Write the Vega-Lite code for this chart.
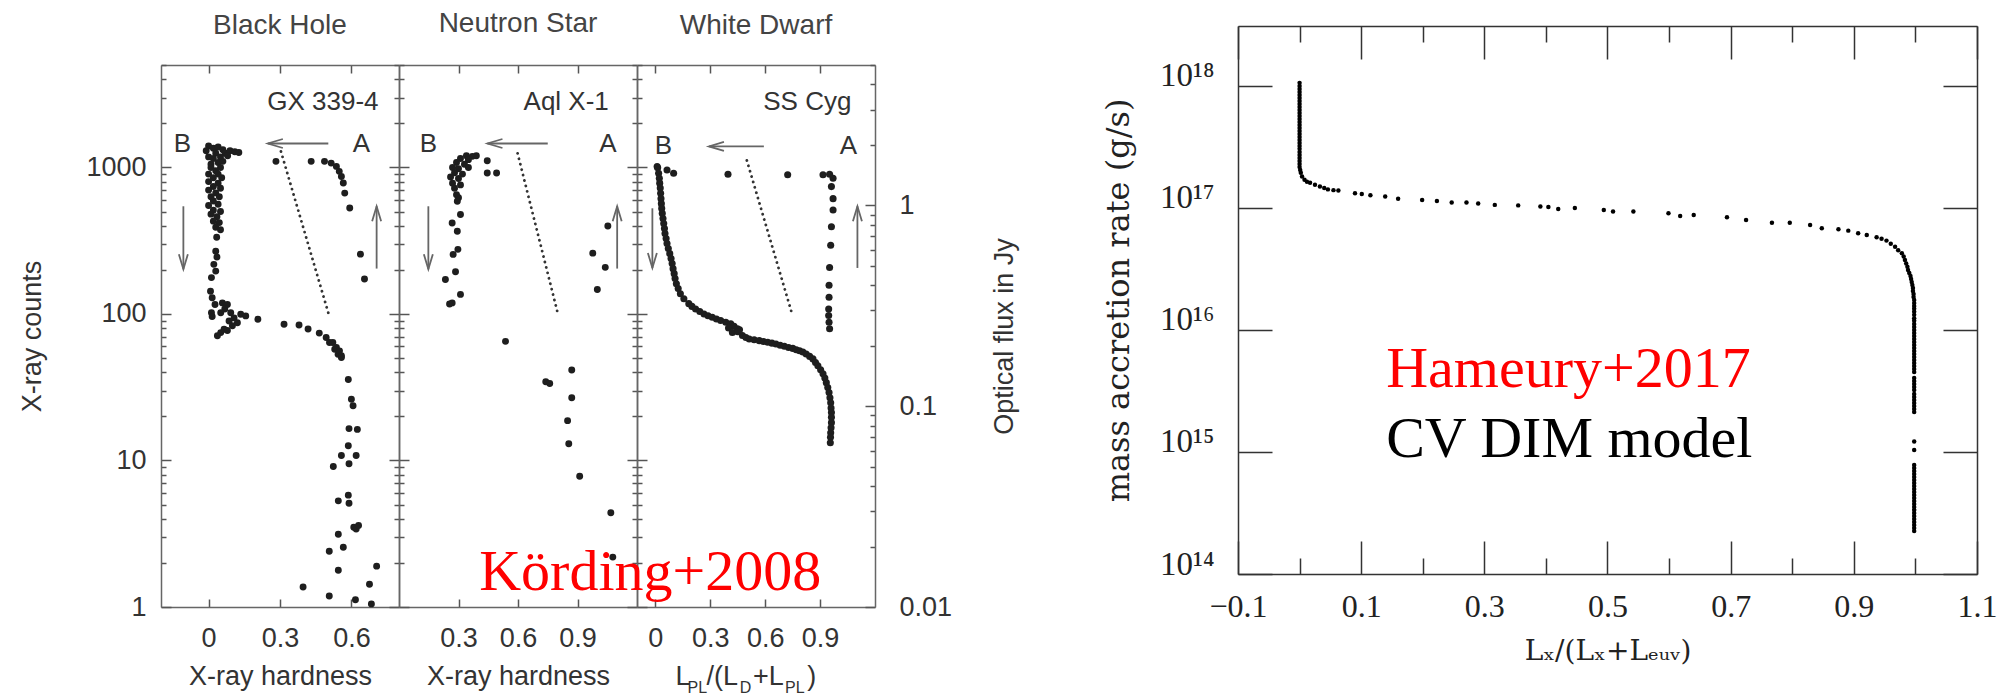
{
"$schema": "https://vega.github.io/schema/vega-lite/v6.json",
"background": "white",
"padding": {"left": 18, "top": 10, "right": 0, "bottom": 0},
"bounds": "flush",
"spacing": 0,
"config": {
  "view": {"stroke": null},
  "axis": {"grid": false, "domainColor": "#666", "domainWidth": 1.5, "tickColor": "#555", "tickWidth": 1.5,
    "labelFont": "Liberation Sans", "labelFontSize": 27, "labelColor": "#333",
    "titleFont": "Liberation Sans", "titleFontSize": 27, "titleFontWeight": "normal", "titleColor": "#333",
    "labelFlush": false, "labelOverlap": false}
},
"datasets": {
  "bh": [
    {"h":0.0,"c":1400},{"h":0.02,"c":1350},{"h":0.04,"c":1380},{"h":0.06,"c":1320},{"h":-0.01,"c":1300},{"h":0.03,"c":1250},{"h":0.07,"c":1250},{"h":0.09,"c":1300},{"h":0.11,"c":1280},{"h":0.127,"c":1264},{"h":0.0,"c":1180},{"h":0.02,"c":1150},{"h":0.05,"c":1180},{"h":0.08,"c":1200},{"h":0.01,"c":1050},{"h":0.04,"c":1080},{"h":0.06,"c":1100},
    {"h":0.01,"c":1000},{"h":0.05,"c":1000},{"h":0.03,"c":950},{"h":0.0,"c":900},{"h":0.04,"c":900},{"h":0.02,"c":850},{"h":0.055,"c":850},{"h":0.0,"c":800},{"h":0.04,"c":780},{"h":0.02,"c":740},{"h":0.05,"c":720},{"h":0.0,"c":700},{"h":0.03,"c":670},{"h":0.01,"c":630},{"h":0.045,"c":630},{"h":0.02,"c":590},{"h":0.04,"c":560},{"h":0.0,"c":550},{"h":0.02,"c":510},{"h":0.05,"c":500},{"h":0.01,"c":480},{"h":0.035,"c":460},{"h":0.02,"c":430},{"h":0.045,"c":420},{"h":0.03,"c":390},{"h":0.05,"c":375},{"h":0.034,"c":334},
    {"h":0.03,"c":268},{"h":0.035,"c":245},{"h":0.022,"c":218},{"h":0.03,"c":196},{"h":0.012,"c":177},
    {"h":0.008,"c":143},{"h":0.015,"c":129},{"h":0.027,"c":116},{"h":0.012,"c":102},{"h":0.015,"c":96},
    {"h":0.058,"c":119},{"h":0.079,"c":116},{"h":0.068,"c":108},{"h":0.093,"c":102},{"h":0.051,"c":102},{"h":0.135,"c":99.5},{"h":0.156,"c":97},{"h":0.107,"c":94},{"h":0.086,"c":89.6},{"h":0.121,"c":87},{"h":0.1,"c":83},{"h":0.065,"c":78.7},{"h":0.079,"c":77},{"h":0.051,"c":74.6},{"h":0.037,"c":71},
    {"h":0.207,"c":92},{"h":0.317,"c":85},{"h":0.38,"c":84},{"h":0.418,"c":79},{"h":0.465,"c":74},{"h":0.494,"c":69},{"h":0.508,"c":63.8},{"h":0.522,"c":63.8},{"h":0.53,"c":57.5},{"h":0.537,"c":59},{"h":0.544,"c":53},{"h":0.55,"c":56},{"h":0.558,"c":51.8},{"h":0.558,"c":50.5},
    {"h":0.587,"c":35.7},{"h":0.6,"c":26.2},{"h":0.607,"c":23.6},{"h":0.59,"c":16.5},{"h":0.625,"c":16.3},{"h":0.587,"c":12.6},{"h":0.558,"c":10.8},{"h":0.62,"c":10.8},{"h":0.59,"c":9.5},{"h":0.524,"c":9.1},{"h":0.587,"c":5.8},{"h":0.545,"c":5.3},{"h":0.59,"c":5.1},{"h":0.61,"c":3.5},{"h":0.62,"c":3.4},{"h":0.63,"c":3.6},{"h":0.545,"c":3.14},{"h":0.566,"c":2.56},{"h":0.507,"c":2.4},{"h":0.706,"c":1.9},{"h":0.545,"c":1.78},{"h":0.397,"c":1.37},{"h":0.676,"c":1.43},{"h":0.507,"c":1.19},{"h":0.617,"c":1.12},{"h":0.684,"c":1.05},
    {"h":0.283,"c":1100},{"h":0.431,"c":1100},{"h":0.487,"c":1100},{"h":0.515,"c":1070},{"h":0.537,"c":1016},{"h":0.549,"c":940},{"h":0.558,"c":868},{"h":0.566,"c":782},{"h":0.572,"c":668},{"h":0.593,"c":529},{"h":0.638,"c":256},{"h":0.655,"c":173}
  ],
  "ns": [
    {"h":0.34,"c":1200},{"h":0.37,"c":1190},{"h":0.39,"c":1200},{"h":0.31,"c":1150},{"h":0.35,"c":1130},{"h":0.29,"c":1080},{"h":0.33,"c":1050},{"h":0.27,"c":1000},{"h":0.3,"c":980},{"h":0.35,"c":1000},{"h":0.28,"c":920},{"h":0.32,"c":900},{"h":0.26,"c":860},{"h":0.3,"c":840},{"h":0.27,"c":780},{"h":0.31,"c":760},{"h":0.28,"c":720},{"h":0.29,"c":650},{"h":0.3,"c":620},
    {"h":0.445,"c":1111},{"h":0.445,"c":915},{"h":0.492,"c":915},
    {"h":0.294,"c":587},{"h":0.31,"c":477},{"h":0.268,"c":418},{"h":0.294,"c":367},{"h":0.297,"c":276},{"h":0.273,"c":255},{"h":0.285,"c":194},{"h":0.234,"c":172},{"h":0.31,"c":136},{"h":0.268,"c":119},{"h":0.255,"c":117},
    {"h":0.537,"c":65},
    {"h":1.053,"c":398},{"h":0.977,"c":260},{"h":1.04,"c":208},{"h":1.0,"c":147},
    {"h":0.871,"c":41.5},{"h":0.74,"c":34.5},{"h":0.76,"c":33.5},{"h":0.871,"c":26.8},{"h":0.85,"c":18.7},{"h":0.856,"c":13},{"h":0.911,"c":7.8},{"h":1.068,"c":4.4},{"h":1.078,"c":2.19}
  ],
  "wd": [
    {"h":0.01,"f":1.56},{"h":0.013,"f":1.54},{"h":0.018,"f":1.445},{"h":0.022,"f":1.365},{"h":0.024,"f":1.29},{"h":0.027,"f":1.22},{"h":0.029,"f":1.15},{"h":0.031,"f":1.08},{"h":0.033,"f":1.02},{"h":0.035,"f":0.966},{"h":0.038,"f":0.912},{"h":0.042,"f":0.861},{"h":0.046,"f":0.813},{"h":0.05,"f":0.767},{"h":0.053,"f":0.724},{"h":0.059,"f":0.684},{"h":0.064,"f":0.646},{"h":0.071,"f":0.61},{"h":0.079,"f":0.575},{"h":0.086,"f":0.543},{"h":0.092,"f":0.513},{"h":0.097,"f":0.484},{"h":0.103,"f":0.457},{"h":0.108,"f":0.432},{"h":0.115,"f":0.407},{"h":0.125,"f":0.385},{"h":0.137,"f":0.363},{"h":0.156,"f":0.343},{"h":0.183,"f":0.324},{"h":0.2,"f":0.314},{"h":0.22,"f":0.305},{"h":0.243,"f":0.296},{"h":0.266,"f":0.288},{"h":0.288,"f":0.282},{"h":0.311,"f":0.277},{"h":0.334,"f":0.272},{"h":0.357,"f":0.267},{"h":0.385,"f":0.262},{"h":0.412,"f":0.257},{"h":0.43,"f":0.25},{"h":0.449,"f":0.243},{"h":0.4,"f":0.245},{"h":0.46,"f":0.24},{"h":0.421,"f":0.233},{"h":0.45,"f":0.235},{"h":0.476,"f":0.225},{"h":0.495,"f":0.22},{"h":0.513,"f":0.216},{"h":0.54,"f":0.214},{"h":0.568,"f":0.212},{"h":0.591,"f":0.21},{"h":0.614,"f":0.208},{"h":0.637,"f":0.206},{"h":0.659,"f":0.204},{"h":0.682,"f":0.201},{"h":0.705,"f":0.199},{"h":0.728,"f":0.196},{"h":0.751,"f":0.194},{"h":0.77,"f":0.191},{"h":0.788,"f":0.189},{"h":0.806,"f":0.186},{"h":0.824,"f":0.182},{"h":0.843,"f":0.177},{"h":0.861,"f":0.172},{"h":0.875,"f":0.165},{"h":0.888,"f":0.159},{"h":0.903,"f":0.152},{"h":0.916,"f":0.145},{"h":0.926,"f":0.138},{"h":0.934,"f":0.131},{"h":0.942,"f":0.124},{"h":0.949,"f":0.117},{"h":0.954,"f":0.11},{"h":0.958,"f":0.104},{"h":0.96,"f":0.098},{"h":0.962,"f":0.093},{"h":0.962,"f":0.088},{"h":0.962,"f":0.0828},{"h":0.96,"f":0.078},{"h":0.958,"f":0.0738},{"h":0.957,"f":0.07},{"h":0.956,"f":0.0658},
    {"h":0.064,"f":1.5},{"h":0.1,"f":1.445},{"h":0.397,"f":1.43},{"h":0.723,"f":1.42},
    {"h":0.916,"f":1.42},{"h":0.952,"f":1.43},{"h":0.971,"f":1.365},{"h":0.962,"f":1.24},{"h":0.971,"f":1.08},{"h":0.971,"f":0.948},{"h":0.962,"f":0.782},{"h":0.958,"f":0.633},{"h":0.952,"f":0.49},{"h":0.949,"f":0.4},{"h":0.949,"f":0.349},{"h":0.947,"f":0.305},{"h":0.947,"f":0.283},{"h":0.949,"f":0.262},{"h":0.952,"f":0.243}
  ],
  "cv": [
    {"r":0,"m":1.06e18},{"r":0,"m":1.0e18},{"r":0,"m":9.44e17},{"r":0,"m":8.93e17},{"r":0,"m":8.44e17},{"r":0,"m":7.97e17},{"r":0,"m":7.54e17},{"r":0,"m":7.12e17},{"r":0,"m":6.73e17},{"r":0,"m":6.36e17},{"r":0,"m":6.01e17},{"r":0,"m":5.68e17},{"r":0,"m":5.37e17},{"r":0,"m":5.07e17},{"r":0,"m":4.79e17},{"r":0,"m":4.53e17},{"r":0,"m":4.28e17},{"r":0,"m":4.04e17},{"r":0,"m":3.82e17},{"r":0,"m":3.61e17},{"r":0,"m":3.41e17},{"r":0,"m":3.22e17},{"r":0,"m":3.05e17},{"r":0,"m":2.88e17},{"r":0,"m":2.72e17},{"r":0,"m":2.57e17},{"r":0,"m":2.43e17},{"r":0,"m":2.29e17},{"r":0,"m":2.17e17},{"r":0.001,"m":2.05e17},{"r":0.002,"m":1.94e17},
    {"r":0.004,"m":1.81e17},{"r":0.008,"m":1.7e17},{"r":0.012,"m":1.64e17},{"r":0.017,"m":1.61e17},{"r":0.025,"m":1.55e17},{"r":0.033,"m":1.5e17},{"r":0.04,"m":1.46e17},{"r":0.046,"m":1.42e17},{"r":0.055,"m":1.4e17},{"r":0.063,"m":1.39e17},{"r":0.09,"m":1.32e17},{"r":0.101,"m":1.3e17},{"r":0.115,"m":1.27e17},{"r":0.139,"m":1.24e17},{"r":0.16,"m":1.19e17},{"r":0.199,"m":1.16e17},{"r":0.223,"m":1.14e17},{"r":0.247,"m":1.11e17},{"r":0.271,"m":1.11e17},{"r":0.29,"m":1.09e17},{"r":0.317,"m":1.06e17},{"r":0.355,"m":1.05e17},{"r":0.391,"m":1.03e17},{"r":0.404,"m":1.02e17},{"r":0.42,"m":9.8e16},{"r":0.447,"m":1.0e17},{"r":0.494,"m":9.64e16},{"r":0.509,"m":9.34e16},{"r":0.542,"m":9.34e16},{"r":0.599,"m":9.06e16},{"r":0.618,"m":8.6e16},{"r":0.64,"m":8.75e16},{"r":0.694,"m":8.4e16},{"r":0.725,"m":7.98e16},{"r":0.767,"m":7.58e16},{"r":0.796,"m":7.58e16},{"r":0.829,"m":7.26e16},{"r":0.848,"m":6.82e16},{"r":0.875,"m":6.7e16},{"r":0.891,"m":6.52e16},{"r":0.907,"m":6.2e16},{"r":0.921,"m":6.0e16},{"r":0.937,"m":5.75e16},{"r":0.945,"m":5.6e16},{"r":0.953,"m":5.4e16},{"r":0.96,"m":5.1e16},{"r":0.967,"m":4.8e16},{"r":0.972,"m":4.5e16},{"r":0.978,"m":4.26e16},{"r":0.981,"m":4.0e16},{"r":0.983,"m":3.75e16},{"r":0.985,"m":3.5e16},{"r":0.987,"m":3.3e16},
    {"r":0.988,"m":3.1e16},{"r":0.99,"m":2.93e16},{"r":0.992,"m":2.77e16},{"r":0.993,"m":2.62e16},{"r":0.994,"m":2.47e16},{"r":0.995,"m":2.34e16},{"r":0.996,"m":2.21e16},{"r":0.996,"m":2.09e16},{"r":0.997,"m":1.97e16},{"r":0.997,"m":1.86e16},{"r":0.998,"m":1.76e16},{"r":0.998,"m":1.66e16},{"r":0.998,"m":1.57e16},{"r":0.998,"m":1.49e16},{"r":0.998,"m":1.41e16},{"r":0.998,"m":1.33e16},{"r":0.998,"m":1.25e16},{"r":0.998,"m":1.19e16},{"r":0.998,"m":1.12e16},{"r":0.998,"m":1.06e16},{"r":0.998,"m":1.0e16},{"r":0.998,"m":9.44e15},{"r":0.998,"m":8.93e15},{"r":0.998,"m":8.44e15},{"r":0.998,"m":7.97e15},{"r":0.998,"m":7.54e15},{"r":0.998,"m":7.12e15},{"r":0.998,"m":6.73e15},{"r":0.998,"m":6.36e15},{"r":0.998,"m":6.01e15},{"r":0.998,"m":5.68e15},{"r":0.998,"m":5.37e15},{"r":0.998,"m":5.07e15},{"r":0.998,"m":4.79e15},{"r":0.998,"m":4.53e15},{"r":0.998,"m":4.04e15},{"r":0.998,"m":3.82e15},{"r":0.998,"m":3.61e15},{"r":0.998,"m":3.41e15},{"r":0.998,"m":3.22e15},{"r":0.998,"m":2.99e15},{"r":0.998,"m":2.82e15},{"r":0.998,"m":2.67e15},{"r":0.998,"m":2.52e15},{"r":0.998,"m":2.38e15},{"r":0.998,"m":2.25e15},{"r":0.998,"m":2.13e15},{"r":0.998,"m":1.22e15},{"r":0.998,"m":1.04e15},
    {"r":0.998,"m":7.82e14},{"r":0.998,"m":7.39e14},{"r":0.998,"m":6.98e14},{"r":0.998,"m":6.6e14},{"r":0.998,"m":6.24e14},{"r":0.998,"m":5.89e14},{"r":0.998,"m":5.57e14},{"r":0.998,"m":5.26e14},{"r":0.998,"m":4.97e14},{"r":0.998,"m":4.7e14},{"r":0.998,"m":4.44e14},{"r":0.998,"m":4.2e14},{"r":0.998,"m":3.96e14},{"r":0.998,"m":3.75e14},{"r":0.998,"m":3.54e14},{"r":0.998,"m":3.35e14},{"r":0.998,"m":3.16e14},{"r":0.998,"m":2.99e14},{"r":0.998,"m":2.82e14},{"r":0.998,"m":2.67e14},{"r":0.998,"m":2.52e14},{"r":0.998,"m":2.38e14},{"r":0.998,"m":2.25e14}
  ],
  "labels": [
    {"panel":"BH","kind":"name","x":0.714,"y":2811,"t":"GX 339-4"},
    {"panel":"BH","kind":"letter","x":-0.11,"y":1456,"t":"B"},
    {"panel":"BH","kind":"letter","x":0.642,"y":1456,"t":"A"},
    {"panel":"NS","kind":"name","x":1.058,"y":2811,"t":"Aql X-1"},
    {"panel":"NS","kind":"letter","x":0.148,"y":1456,"t":"B"},
    {"panel":"NS","kind":"letter","x":1.053,"y":1456,"t":"A"},
    {"panel":"WD","kind":"name","x":1.071,"y":2811,"t":"SS Cyg"},
    {"panel":"WD","kind":"letter","x":0.044,"y":1390,"t":"B"},
    {"panel":"WD","kind":"letter","x":1.055,"y":1390,"t":"A"},
    {"panel":"WD","kind":"credit","x":-0.962,"y":1.305,"t":"Körding+2008"},
    {"panel":"WD","kind":"xlab","x":0.11,"y":0.2946,"t":"L"},
    {"panel":"WD","kind":"xsub","x":0.176,"y":0.26,"t":"PL"},
    {"panel":"WD","kind":"xlab","x":0.28,"y":0.2946,"t":"/(L"},
    {"panel":"WD","kind":"xsub","x":0.4615,"y":0.26,"t":"D"},
    {"panel":"WD","kind":"xlab","x":0.533,"y":0.2946,"t":"+L"},
    {"panel":"WD","kind":"xsub","x":0.709,"y":0.26,"t":"PL"},
    {"panel":"WD","kind":"xlab","x":0.83,"y":0.2946,"t":")"}
  ],
  "arrows": [
    {"panel":"BH","x":0.503,"y":1456,"x2":0.249,"y2":1456,"dir":"left"},
    {"panel":"BH","x":-0.106,"y":543,"x2":-0.106,"y2":202,"dir":"down"},
    {"panel":"BH","x":0.706,"y":204,"x2":0.706,"y2":543,"dir":"up"},
    {"panel":"NS","x":0.75,"y":1456,"x2":0.446,"y2":1456,"dir":"left"},
    {"panel":"NS","x":0.148,"y":543,"x2":0.148,"y2":202,"dir":"down"},
    {"panel":"NS","x":1.1,"y":204,"x2":1.1,"y2":543,"dir":"up"},
    {"panel":"WD","x":0.593,"y":1390,"x2":0.293,"y2":1390,"dir":"left"},
    {"panel":"WD","x":-0.016,"y":526,"x2":-0.016,"y2":206,"dir":"down"},
    {"panel":"WD","x":1.104,"y":206,"x2":1.104,"y2":543,"dir":"up"}
  ],
  "dotted": [
    {"panel":"BH","x":0.304,"y":1285,"x2":0.503,"y2":101.6},
    {"panel":"NS","x":0.598,"y":1248,"x2":0.8,"y2":101.6},
    {"panel":"WD","x":0.5,"y":1116,"x2":0.747,"y2":100}
  ],
  "cvtext": [
    {"x":0.1406,"y":3.41e15,"t":"Hameury+2017","role":"ref"},
    {"x":0.1406,"y":9.1e14,"t":"CV DIM model","role":"model"}
  ]
},
"hconcat": [
  {
    "width": 238, "height": 542,
    "title": {"text": "Black Hole", "offset": 11, "frame": "group", "anchor": "middle", "font": "Liberation Sans", "fontSize": 28, "fontWeight": "normal", "color": "#444"},
    "layer": [
      {"data": {"name": "bh"}, "mark": {"type": "circle", "size": 48, "color": "#1e1e1e", "opacity": 1},
       "encoding": {
         "x": {"field": "h", "type": "quantitative", "scale": {"domain": [-0.2, 0.8], "nice": false, "zero": false},
               "axis": {"orient": "bottom", "values": [0, 0.3, 0.6], "format": "~g", "tickSize": -8, "labelPadding": 26, "title": "X-ray hardness", "titlePadding": 12}},
         "y": {"field": "c", "type": "quantitative", "scale": {"type": "log", "domain": [1, 5000], "nice": false},
               "axis": {"orient": "left", "values": [1,2,3,4,5,6,7,8,9,10,20,30,40,50,60,70,80,90,100,200,300,400,500,600,700,800,900,1000,2000,3000,4000,5000], "format": "~g",
                        "labelExpr": "abs(log(datum.value)/LN10 - round(log(datum.value)/LN10)) < 0.001 ? datum.label : ''",
                        "tickSize": {"condition": {"test": "abs(log(datum.value)/LN10 - round(log(datum.value)/LN10)) < 0.001", "value": -10}, "value": -5},
                        "labelPadding": 25, "title": "X-ray counts", "titlePadding": 39}}
       }},
      {"data": {"name": "labels"}, "transform": [{"filter": "datum.panel == 'BH' && datum.kind == 'letter'"}],
       "mark": {"type": "text", "font": "Liberation Sans", "fontSize": 26, "color": "#333", "align": "center", "baseline": "middle"},
       "encoding": {
         "x": {"field": "x", "type": "quantitative", "scale": {"domain": [-0.2, 0.8], "nice": false, "zero": false},
               "axis": {"orient": "top", "values": [0, 0.3, 0.6], "labels": false, "tickSize": -8, "title": null}},
         "y": {"field": "y", "type": "quantitative", "scale": {"type": "log", "domain": [1, 5000], "nice": false},
               "axis": {"orient": "right", "values": [1,2,3,4,5,6,7,8,9,10,20,30,40,50,60,70,80,90,100,200,300,400,500,600,700,800,900,1000,2000,3000,4000,5000], "labels": false,
                        "tickSize": {"condition": {"test": "abs(log(datum.value)/LN10 - round(log(datum.value)/LN10)) < 0.001", "value": -10}, "value": -5}, "title": null}},
         "text": {"field": "t"}
       }},
      {"data": {"name": "labels"}, "transform": [{"filter": "datum.panel == 'BH' && datum.kind == 'name'"}],
       "mark": {"type": "text", "font": "Liberation Sans", "fontSize": 26, "color": "#333", "align": "right", "baseline": "middle"},
       "encoding": {
         "x": {"field": "x", "type": "quantitative", "scale": {"domain": [-0.2, 0.8], "nice": false, "zero": false}, "axis": null},
         "y": {"field": "y", "type": "quantitative", "scale": {"type": "log", "domain": [1, 5000], "nice": false}, "axis": null},
         "text": {"field": "t"}
       }},
      {"data": {"name": "arrows"}, "transform": [{"filter": "datum.panel == 'BH'"}],
       "mark": {"type": "rule", "color": "#666", "strokeWidth": 1.8},
       "encoding": {
         "x": {"field": "x", "type": "quantitative", "scale": {"domain": [-0.2, 0.8], "nice": false, "zero": false}, "axis": null},
         "y": {"field": "y", "type": "quantitative", "scale": {"type": "log", "domain": [1, 5000], "nice": false}, "axis": null},
         "x2": {"field": "x2"}, "y2": {"field": "y2"}
       }},
      {"data": {"name": "arrows"}, "transform": [{"filter": "datum.panel == 'BH'"}],
       "mark": {"type": "point", "filled": false, "color": "#666", "strokeWidth": 1.8, "size": 144, "opacity": 1},
       "encoding": {
         "x": {"field": "x2", "type": "quantitative", "scale": {"domain": [-0.2, 0.8], "nice": false, "zero": false}, "axis": null},
         "y": {"field": "y2", "type": "quantitative", "scale": {"type": "log", "domain": [1, 5000], "nice": false}, "axis": null},
         "shape": {"field": "dir", "type": "nominal", "scale": {"domain": ["left", "up", "down"], "range": ["M2.5,-0.75L0,0L2.5,0.75", "M-0.75,2.5L0,0L0.75,2.5", "M-0.75,-2.5L0,0L0.75,-2.5"]}, "legend": null}
       }},
      {"data": {"name": "dotted"}, "transform": [{"filter": "datum.panel == 'BH'"}],
       "mark": {"type": "rule", "color": "#333", "strokeWidth": 2.8, "strokeDash": [0.1, 5.5], "strokeCap": "round"},
       "encoding": {
         "x": {"field": "x", "type": "quantitative", "scale": {"domain": [-0.2, 0.8], "nice": false, "zero": false}, "axis": null},
         "y": {"field": "y", "type": "quantitative", "scale": {"type": "log", "domain": [1, 5000], "nice": false}, "axis": null},
         "x2": {"field": "x2"}, "y2": {"field": "y2"}
       }}
    ],
    "resolve": {"scale": {"x": "independent", "y": "independent"}, "axis": {"x": "independent", "y": "independent"}}
  },
  {
    "width": 238, "height": 542,
    "title": {"text": "Neutron Star", "offset": 26, "frame": "group", "anchor": "middle", "font": "Liberation Sans", "fontSize": 28, "fontWeight": "normal", "color": "#444"},
    "layer": [
      {"data": {"name": "ns"}, "mark": {"type": "circle", "size": 48, "color": "#1e1e1e", "opacity": 1},
       "encoding": {
         "x": {"field": "h", "type": "quantitative", "scale": {"domain": [0, 1.2], "nice": false, "zero": false},
               "axis": {"orient": "bottom", "values": [0.3, 0.6, 0.9], "format": "~g", "tickSize": -8, "labelPadding": 26, "title": "X-ray hardness", "titlePadding": 12}},
         "y": {"field": "c", "type": "quantitative", "scale": {"type": "log", "domain": [1, 5000], "nice": false},
               "axis": {"orient": "left", "values": [1,2,3,4,5,6,7,8,9,10,20,30,40,50,60,70,80,90,100,200,300,400,500,600,700,800,900,1000,2000,3000,4000,5000], "labels": false,
                        "tickSize": {"condition": {"test": "abs(log(datum.value)/LN10 - round(log(datum.value)/LN10)) < 0.001", "value": -10}, "value": -5}, "title": null}}
       }},
      {"data": {"name": "labels"}, "transform": [{"filter": "datum.panel == 'NS' && datum.kind == 'letter'"}],
       "mark": {"type": "text", "font": "Liberation Sans", "fontSize": 26, "color": "#333", "align": "center", "baseline": "middle"},
       "encoding": {
         "x": {"field": "x", "type": "quantitative", "scale": {"domain": [0, 1.2], "nice": false, "zero": false},
               "axis": {"orient": "top", "values": [0.3, 0.6, 0.9], "labels": false, "tickSize": -8, "title": null}},
         "y": {"field": "y", "type": "quantitative", "scale": {"type": "log", "domain": [1, 5000], "nice": false},
               "axis": {"orient": "right", "values": [1,2,3,4,5,6,7,8,9,10,20,30,40,50,60,70,80,90,100,200,300,400,500,600,700,800,900,1000,2000,3000,4000,5000], "labels": false,
                        "tickSize": {"condition": {"test": "abs(log(datum.value)/LN10 - round(log(datum.value)/LN10)) < 0.001", "value": -10}, "value": -5}, "title": null}},
         "text": {"field": "t"}
       }},
      {"data": {"name": "labels"}, "transform": [{"filter": "datum.panel == 'NS' && datum.kind == 'name'"}],
       "mark": {"type": "text", "font": "Liberation Sans", "fontSize": 26, "color": "#333", "align": "right", "baseline": "middle"},
       "encoding": {
         "x": {"field": "x", "type": "quantitative", "scale": {"domain": [0, 1.2], "nice": false, "zero": false}, "axis": null},
         "y": {"field": "y", "type": "quantitative", "scale": {"type": "log", "domain": [1, 5000], "nice": false}, "axis": null},
         "text": {"field": "t"}
       }},
      {"data": {"name": "arrows"}, "transform": [{"filter": "datum.panel == 'NS'"}],
       "mark": {"type": "rule", "color": "#666", "strokeWidth": 1.8},
       "encoding": {
         "x": {"field": "x", "type": "quantitative", "scale": {"domain": [0, 1.2], "nice": false, "zero": false}, "axis": null},
         "y": {"field": "y", "type": "quantitative", "scale": {"type": "log", "domain": [1, 5000], "nice": false}, "axis": null},
         "x2": {"field": "x2"}, "y2": {"field": "y2"}
       }},
      {"data": {"name": "arrows"}, "transform": [{"filter": "datum.panel == 'NS'"}],
       "mark": {"type": "point", "filled": false, "color": "#666", "strokeWidth": 1.8, "size": 144, "opacity": 1},
       "encoding": {
         "x": {"field": "x2", "type": "quantitative", "scale": {"domain": [0, 1.2], "nice": false, "zero": false}, "axis": null},
         "y": {"field": "y2", "type": "quantitative", "scale": {"type": "log", "domain": [1, 5000], "nice": false}, "axis": null},
         "shape": {"field": "dir", "type": "nominal", "scale": {"domain": ["left", "up", "down"], "range": ["M2.5,-0.75L0,0L2.5,0.75", "M-0.75,2.5L0,0L0.75,2.5", "M-0.75,-2.5L0,0L0.75,-2.5"]}, "legend": null}
       }},
      {"data": {"name": "dotted"}, "transform": [{"filter": "datum.panel == 'NS'"}],
       "mark": {"type": "rule", "color": "#333", "strokeWidth": 2.8, "strokeDash": [0.1, 5.5], "strokeCap": "round"},
       "encoding": {
         "x": {"field": "x", "type": "quantitative", "scale": {"domain": [0, 1.2], "nice": false, "zero": false}, "axis": null},
         "y": {"field": "y", "type": "quantitative", "scale": {"type": "log", "domain": [1, 5000], "nice": false}, "axis": null},
         "x2": {"field": "x2"}, "y2": {"field": "y2"}
       }}
    ],
    "resolve": {"scale": {"x": "independent", "y": "independent"}, "axis": {"x": "independent", "y": "independent"}}
  },
  {
    "width": 238, "height": 542,
    "title": {"text": "White Dwarf", "offset": 11, "frame": "group", "anchor": "middle", "font": "Liberation Sans", "fontSize": 28, "fontWeight": "normal", "color": "#444"},
    "layer": [
      {"data": {"name": "wd"}, "mark": {"type": "circle", "size": 50, "color": "#1e1e1e", "opacity": 1},
       "encoding": {
         "x": {"field": "h", "type": "quantitative", "scale": {"domain": [-0.1, 1.2], "nice": false, "zero": false},
               "axis": {"orient": "bottom", "values": [0, 0.3, 0.6, 0.9], "format": "~g", "tickSize": -8, "labelPadding": 26, "title": null}},
         "y": {"field": "f", "type": "quantitative", "scale": {"type": "log", "domain": [0.01, 5], "nice": false},
               "axis": {"orient": "right", "values": [0.01,0.02,0.03,0.04,0.05,0.06,0.07,0.08,0.09,0.1,0.2,0.3,0.4,0.5,0.6,0.7,0.8,0.9,1,2,3,4,5],
                        "labelExpr": "abs(log(datum.value)/LN10 - round(log(datum.value)/LN10)) < 0.001 ? format(datum.value, '~g') : ''",
                        "tickSize": {"condition": {"test": "abs(log(datum.value)/LN10 - round(log(datum.value)/LN10)) < 0.001", "value": -10}, "value": -5},
                        "labelPadding": 34, "title": "Optical flux in Jy", "titleAngle": 270, "titleBaseline": "top", "titlePadding": 40}}
       }},
      {"data": {"name": "labels"}, "transform": [{"filter": "datum.panel == 'WD' && datum.kind == 'letter'"}],
       "mark": {"type": "text", "font": "Liberation Sans", "fontSize": 26, "color": "#333", "align": "center", "baseline": "middle"},
       "encoding": {
         "x": {"field": "x", "type": "quantitative", "scale": {"domain": [-0.1, 1.2], "nice": false, "zero": false},
               "axis": {"orient": "top", "values": [0, 0.3, 0.6, 0.9], "labels": false, "tickSize": -8, "title": null}},
         "y": {"field": "y", "type": "quantitative", "scale": {"type": "log", "domain": [1, 5000], "nice": false},
               "axis": {"orient": "left", "values": [1,2,3,4,5,6,7,8,9,10,20,30,40,50,60,70,80,90,100,200,300,400,500,600,700,800,900,1000,2000,3000,4000,5000], "labels": false,
                        "tickSize": {"condition": {"test": "abs(log(datum.value)/LN10 - round(log(datum.value)/LN10)) < 0.001", "value": -10}, "value": -5}, "title": null}},
         "text": {"field": "t"}
       }},
      {"data": {"name": "labels"}, "transform": [{"filter": "datum.panel == 'WD' && datum.kind == 'name'"}],
       "mark": {"type": "text", "font": "Liberation Sans", "fontSize": 26, "color": "#333", "align": "right", "baseline": "middle"},
       "encoding": {
         "x": {"field": "x", "type": "quantitative", "scale": {"domain": [-0.1, 1.2], "nice": false, "zero": false}, "axis": null},
         "y": {"field": "y", "type": "quantitative", "scale": {"type": "log", "domain": [1, 5000], "nice": false}, "axis": null},
         "text": {"field": "t"}
       }},
      {"data": {"name": "arrows"}, "transform": [{"filter": "datum.panel == 'WD'"}],
       "mark": {"type": "rule", "color": "#666", "strokeWidth": 1.8},
       "encoding": {
         "x": {"field": "x", "type": "quantitative", "scale": {"domain": [-0.1, 1.2], "nice": false, "zero": false}, "axis": null},
         "y": {"field": "y", "type": "quantitative", "scale": {"type": "log", "domain": [1, 5000], "nice": false}, "axis": null},
         "x2": {"field": "x2"}, "y2": {"field": "y2"}
       }},
      {"data": {"name": "arrows"}, "transform": [{"filter": "datum.panel == 'WD'"}],
       "mark": {"type": "point", "filled": false, "color": "#666", "strokeWidth": 1.8, "size": 144, "opacity": 1},
       "encoding": {
         "x": {"field": "x2", "type": "quantitative", "scale": {"domain": [-0.1, 1.2], "nice": false, "zero": false}, "axis": null},
         "y": {"field": "y2", "type": "quantitative", "scale": {"type": "log", "domain": [1, 5000], "nice": false}, "axis": null},
         "shape": {"field": "dir", "type": "nominal", "scale": {"domain": ["left", "up", "down"], "range": ["M2.5,-0.75L0,0L2.5,0.75", "M-0.75,2.5L0,0L0.75,2.5", "M-0.75,-2.5L0,0L0.75,-2.5"]}, "legend": null}
       }},
      {"data": {"name": "dotted"}, "transform": [{"filter": "datum.panel == 'WD'"}],
       "mark": {"type": "rule", "color": "#333", "strokeWidth": 2.8, "strokeDash": [0.1, 5.5], "strokeCap": "round"},
       "encoding": {
         "x": {"field": "x", "type": "quantitative", "scale": {"domain": [-0.1, 1.2], "nice": false, "zero": false}, "axis": null},
         "y": {"field": "y", "type": "quantitative", "scale": {"type": "log", "domain": [1, 5000], "nice": false}, "axis": null},
         "x2": {"field": "x2"}, "y2": {"field": "y2"}
       }},
      {"data": {"name": "labels"}, "transform": [{"filter": "datum.panel == 'WD' && datum.kind == 'xlab'"}],
       "mark": {"type": "text", "font": "Liberation Sans", "fontSize": 27, "color": "#333", "align": "left", "baseline": "alphabetic"},
       "encoding": {
         "x": {"field": "x", "type": "quantitative", "scale": {"domain": [-0.1, 1.2], "nice": false, "zero": false}, "axis": null},
         "y": {"field": "y", "type": "quantitative", "scale": {"type": "log", "domain": [1, 5000], "nice": false}, "axis": null},
         "text": {"field": "t"}
       }},
      {"data": {"name": "labels"}, "transform": [{"filter": "datum.panel == 'WD' && datum.kind == 'xsub'"}],
       "mark": {"type": "text", "font": "Liberation Sans", "fontSize": 16, "color": "#333", "align": "left", "baseline": "alphabetic"},
       "encoding": {
         "x": {"field": "x", "type": "quantitative", "scale": {"domain": [-0.1, 1.2], "nice": false, "zero": false}, "axis": null},
         "y": {"field": "y", "type": "quantitative", "scale": {"type": "log", "domain": [1, 5000], "nice": false}, "axis": null},
         "text": {"field": "t"}
       }},
      {"data": {"name": "labels"}, "transform": [{"filter": "datum.panel == 'WD' && datum.kind == 'credit'"}],
       "mark": {"type": "text", "font": "Liberation Serif", "fontSize": 58, "color": "#ff0000", "align": "left", "baseline": "alphabetic"},
       "encoding": {
         "x": {"field": "x", "type": "quantitative", "scale": {"domain": [-0.1, 1.2], "nice": false, "zero": false}, "axis": null},
         "y": {"field": "y", "type": "quantitative", "scale": {"type": "log", "domain": [1, 5000], "nice": false}, "axis": null},
         "text": {"field": "t"}
       }}
    ],
    "resolve": {"scale": {"x": "independent", "y": "independent"}, "axis": {"x": "independent", "y": "independent"}}
  },
  {
    "width": 363, "height": 10,
    "data": {"values": [{"t": ""}]},
    "mark": {"type": "text"},
    "encoding": {"text": {"field": "t"}}
  },
  {
    "width": 739, "height": 509,
    "layer": [
      {"data": {"name": "cv"}, "mark": {"type": "circle", "size": 20, "color": "#000", "opacity": 1},
       "encoding": {
         "x": {"field": "r", "type": "quantitative", "scale": {"domain": [-0.1, 1.1], "nice": false, "zero": false},
               "axis": {"orient": "bottom", "values": [-0.1,0,0.1,0.2,0.3,0.4,0.5,0.6,0.7,0.8,0.9,1,1.1],
                        "labelExpr": "abs(round(datum.value*10)) % 2 == 1 ? (datum.value < 0 ? '−0.1' : format(datum.value, '.1f')) : ''",
                        "tickSize": {"condition": {"test": "abs(round(datum.value*10)) % 2 == 1", "value": -33}, "value": -16},
                        "domainColor": "#333", "tickColor": "#333", "labelFont": "Liberation Serif", "labelFontSize": 32, "labelColor": "#222", "labelPadding": 50,
                        "title": "Lₓ/(Lₓ+Lₑᵤᵥ)", "titleFont": "DejaVu Serif", "titleFontSize": 28, "titleColor": "#222", "titlePadding": -2}},
         "y": {"field": "m", "type": "quantitative", "scale": {"type": "log", "domain": [1e14, 3.1e18], "range": [509, -39], "nice": false},
               "axis": {"orient": "left", "values": [1e14, 1e15, 1e16, 1e17, 1e18],
                        "labelExpr": "'10' + (datum.value > 5e17 ? '¹⁸' : datum.value > 5e16 ? '¹⁷' : datum.value > 5e15 ? '¹⁶' : datum.value > 5e14 ? '¹⁵' : '¹⁴')",
                        "tickSize": -34, "domainColor": "#333", "tickColor": "#333", "labelFont": "Liberation Serif", "labelFontSize": 33, "labelColor": "#222", "labelPadding": 58, "labelBaseline": "alphabetic",
                        "title": "mass accretion rate (g/s)", "titleFont": "DejaVu Serif", "titleFontSize": 32, "titleColor": "#222", "titlePadding": 24}}
       }},
      {"data": {"name": "cvtext"}, "mark": {"type": "text", "font": "Liberation Serif", "fontSize": 58, "align": "left", "baseline": "alphabetic"},
       "encoding": {
         "x": {"field": "x", "type": "quantitative", "scale": {"domain": [-0.1, 1.1], "nice": false, "zero": false},
               "axis": {"orient": "top", "offset": 39, "values": [-0.1,0,0.1,0.2,0.3,0.4,0.5,0.6,0.7,0.8,0.9,1,1.1], "labels": false,
                        "tickSize": {"condition": {"test": "abs(round(datum.value*10)) % 2 == 1", "value": -33}, "value": -16},
                        "domainColor": "#333", "tickColor": "#333", "title": null}},
         "y": {"field": "y", "type": "quantitative", "scale": {"type": "log", "domain": [1e14, 3.1e18], "range": [509, -39], "nice": false},
               "axis": {"orient": "right", "values": [1e14, 1e15, 1e16, 1e17, 1e18], "labels": false, "tickSize": -34, "domainColor": "#333", "tickColor": "#333", "title": null}},
         "text": {"field": "t"},
         "color": {"field": "role", "type": "nominal", "scale": {"domain": ["ref", "model"], "range": ["#ff0000", "#000000"]}, "legend": null}
       }}
    ],
    "resolve": {"scale": {"x": "independent", "y": "independent"}, "axis": {"x": "independent", "y": "independent"}}
  }
]
}
